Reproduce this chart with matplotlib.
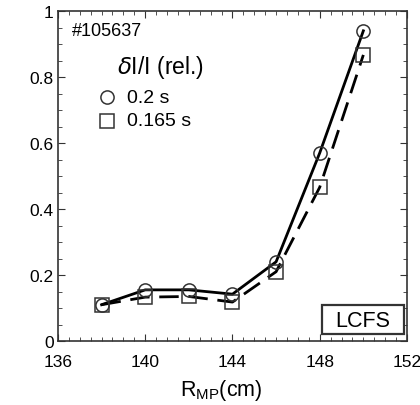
import matplotlib
matplotlib.use("Agg")
import matplotlib.pyplot as plt
from matplotlib.patches import Rectangle
from matplotlib.ticker import MultipleLocator

plt.rcParams['font.family'] = ['Liberation Sans', 'DejaVu Sans']
plt.rcParams['mathtext.fontset'] = 'custom'
plt.rcParams['mathtext.rm'] = 'Liberation Sans'

# major radius positions (cm) and relative fluctuation levels
r_mp = [138, 140, 142, 144, 146, 148, 150]
dI_020 = [0.11, 0.155, 0.155, 0.142, 0.24, 0.57, 0.94]
dI_0165 = [0.11, 0.133, 0.135, 0.118, 0.21, 0.466, 0.867]

x_ticks = [136, 140, 144, 148, 152]
y_ticks = [0, 0.2, 0.4, 0.6, 0.8, 1]
y_tick_labels = ['0', '0.2', '0.4', '0.6', '0.8', '1']

fig = plt.figure(figsize=(4.2, 4.06), dpi=100)
ax = fig.add_axes([0.138, 0.1576, 0.831, 0.8128])

ax.plot(r_mp, dI_020, color='black', lw=2, zorder=3)
ax.plot(r_mp, dI_0165, color='black', lw=2, ls=(0, (7, 3.5)), zorder=3)
ax.plot(r_mp, dI_020, ls='none', marker='o', ms=9.5, mfc='none',
        mec='#333333', mew=1.1, zorder=4)
ax.plot(r_mp, dI_0165, ls='none', marker='s', ms=10, mfc='none',
        mec='#333333', mew=1.1, zorder=4)

ax.set_xlim(136, 152)
ax.set_ylim(0, 1)
ax.set_xticks(x_ticks)
ax.set_yticks(y_ticks)
ax.set_yticklabels(y_tick_labels)
ax.xaxis.set_minor_locator(MultipleLocator(0.5))
ax.yaxis.set_minor_locator(MultipleLocator(0.05))
ax.tick_params(which='both', direction='in', top=True, right=True,
               labelsize=12.5, color='#333333')
ax.tick_params(which='major', length=5)
ax.tick_params(which='minor', length=3)
ax.tick_params(axis='x', which='major', pad=9)
ax.tick_params(axis='y', which='major', pad=3)
for sp in ax.spines.values():
    sp.set_linewidth(1.2)
    sp.set_color('#333333')

ax.set_xlabel(r'R$_{\mathrm{MP}}$(cm)', fontsize=15.5)
ax.xaxis.set_label_coords(0.468, -0.11)

# annotations
ax.text(0.04, 0.942, '#105637', transform=ax.transAxes, fontsize=13,
        va='center', ha='left')
ax.text(0.169, 0.833, r'$\delta$I/I (rel.)', transform=ax.transAxes,
        fontsize=16.5, va='center', ha='left')
ax.plot([0.14], [0.739], transform=ax.transAxes, marker='o', ms=9.5,
        mfc='none', mec='#333333', mew=1.1, clip_on=False)
ax.text(0.198, 0.739, '0.2 s', transform=ax.transAxes, fontsize=14,
        va='center', ha='left')
ax.plot([0.14], [0.667], transform=ax.transAxes, marker='s', ms=10,
        mfc='none', mec='#333333', mew=1.1, clip_on=False)
ax.text(0.198, 0.667, '0.165 s', transform=ax.transAxes, fontsize=14,
        va='center', ha='left')

# LCFS marker box
ax.add_patch(Rectangle((0.756, 0.021), 0.235, 0.088, transform=ax.transAxes,
                       fc='white', ec='#333333', lw=1.6, zorder=5))
ax.text(0.874, 0.062, 'LCFS', transform=ax.transAxes, fontsize=15.5,
        va='center', ha='center', zorder=6)

fig.savefig('out.png', dpi=100)
